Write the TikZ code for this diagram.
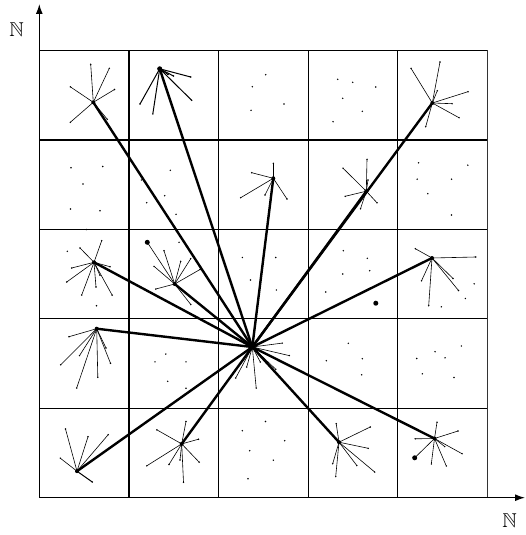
\documentclass[tikz,border=0pt]{standalone}
\usepackage{amssymb}
\usetikzlibrary{arrows.meta}
\tikzset{
  leaf/.style={line width=0.6pt},
  leafthick/.style={line width=1.0pt},
  link/.style={line width=2.4pt},
  smalldot/.style={circle,fill,inner sep=0pt,minimum size=1.6pt},
  hubdot/.style={circle,fill,inner sep=0pt,minimum size=4pt},
  bigdot/.style={circle,fill,inner sep=0pt,minimum size=5pt},
  gridthin/.style={line width=0.7pt},
  gridmid/.style={line width=1.0pt},
  gridthick/.style={line width=1.4pt},
  axis/.style={line width=1.3pt,-{Latex[length=10pt,width=7pt]}},
  lbl/.style={inner sep=0pt,font=\fontsize{20}{24}\selectfont}
}
\newcommand\drawstar[5][leaf]{%
  \coordinate (#2) at (#3,#4);
  \foreach \xx/\yy in {#5} {\draw[#1] (#2) -- (\xx,\yy) node[smalldot]{};}
  \node[hubdot] at (#2) {};
}
\newcommand\drawdots[1]{%
  \foreach \xx/\yy in {#1} {\node[smalldot] at (\xx,\yy) {};}
}
\begin{document}
\begin{tikzpicture}[x=1pt,y=-1pt]
\useasboundingbox (0,0) rectangle (525,535);
% grid
\draw[gridmid] (39.3,50.3) -- (487.3,50.3);
\draw[gridthick] (39.3,139.8) -- (487.3,139.8);
\draw[gridmid] (39.3,229.2) -- (487.3,229.2);
\draw[gridmid] (39.3,318.7) -- (487.3,318.7);
\draw[gridmid] (39.3,408.2) -- (487.3,408.2);
\draw[gridthick] (128.9,50.3) -- (128.9,497.7);
\draw[gridthin] (218.5,50.3) -- (218.5,497.7);
\draw[gridmid] (308.1,50.3) -- (308.1,497.7);
\draw[gridmid] (397.7,50.3) -- (397.7,497.7);
\draw[gridthin,black!80] (487.3,50.3) -- (487.3,497.7);
% axes
\coordinate (O) at (39.3,497.7);
\coordinate (Ytip) at (39.3,4);
\coordinate (Xtip) at (525,497.7);
\draw[axis] (O) -- (Ytip);
\draw[axis] (O) -- (Xtip);
\node[lbl] (ny) at (16.5,30) {$\mathbb{N}$};
\node[lbl] (nx) at (509.5,520.3) {$\mathbb{N}$};
% stars
\drawstar{A}{93.3}{102.3}{90.7/64.3, 109.3/68.3, 70.3/86.8, 114.5/89.5, 70.3/122.3, 107.3/119.3}
\drawstar[leafthick]{B}{159.7}{68.8}{190.7/77, 191.7/100.3, 140/104, 152.8/114, 173.5/76, 168/74.5}
\drawstar{C}{432.3}{103}{411/68.3, 440/62, 437.3/90.7, 468/91.7, 452/103.7, 459/117.7, 425.7/126.7}
\drawstar{D}{273.3}{178.3}{273.3/163.3, 251.7/172.7, 240.7/197.7, 265/195, 287/199}
\drawstar{E}{366.3}{191.2}{367/159.3, 343/168.2, 345.2/196.3, 377/202.8, 360.5/208.8, 368/180}
\drawstar{F}{94}{262.3}{101.7/240.7, 80/248, 71.7/268, 110/266.7, 66.7/282, 81.7/295, 96/287, 112.2/295.2, 100/275.3}
\drawstar{G}{174.7}{284}{147.3/242.3, 164/250.7, 180.7/261.3, 190.7/258.7, 154/266.3, 200/269.5, 155.8/289, 190.8/304.5}
\drawstar{H}{432}{258}{415.3/248.7, 475.7/257, 421.5/280.8, 428.7/305.7, 453/278.5, 458.5/290.5}
\drawstar{I}{96.7}{328.7}{69/336.7, 60.7/364.8, 79.5/355.6, 76.7/388, 97.8/377.3, 106/348, 110.5/363.2}
\drawstar{hub}{252.3}{347}{282.2/343.1, 289.3/355.6, 275.8/369.3, 260.3/362, 235.7/378, 246.7/367, 256.2/388}
\drawstar{J}{77}{471.2}{65.5/429, 88/436.7, 108.2/434.7, 60.3/458.2}
\draw[leafthick] (J) -- (92.3,482) node[smalldot]{};
\drawstar{K}{181.7}{443.9}{186/421.5, 156.8/429.8, 198.5/439.2, 146.8/465.8, 169/464.5, 180/460, 199.2/462.2, 183.5/482.3}
\drawstar{L}{339}{442.2}{336.2/423.7, 370.2/427, 368.2/448.3, 332.7/463.7, 335.7/476.6, 356.8/465.5, 374.7/472}
\drawstar{M}{434.5}{438.5}{437/422.2, 458/431, 415.2/438.8, 462/453.7, 446.3/466, 431.3/464, 444.7/446.6, 414.7/457.8}
% big dots
\node[bigdot] (g1) at (147.3,242.3) {};
\node[bigdot] (m1) at (414.7,457.8) {};
\node[bigdot] (q1) at (375.8,303.2) {};
\node[bigdot] (b1) at (159.7,68.8) {};
% loose dots
\drawdots{265.7/74.7, 252.3/86.7, 284/104, 251/110.3}
\drawdots{337.7/79.3, 352.7/82.3, 375.7/87, 342.7/98.3, 362.3/111.3, 333/121.7}
\drawdots{71/167.7, 102.7/166.5, 83/184, 70.5/209, 100/210.7, 86.3/229.5}
\drawdots{170.3/170.3, 164.7/195.7, 146.7/202.7, 176/214.3, 141.3/180}
\drawdots{418.5/162.8, 467.8/165.2, 417.2/179.2, 451.5/179.2, 427.8/193.7, 451.5/215}
\drawdots{67.3/251.3, 96.5/305.7}
\drawdots{179/242.3}
\drawdots{242.3/257.5, 275.7/257.5, 250.5/280, 276.3/290}
\drawdots{343.3/250.7, 367.3/258.3, 369.7/270.7, 342.7/274, 325.7/292}
\drawdots{474.2/283.8, 465.3/298.5, 441.3/306.8}
\drawdots{165.8/354, 155/361.8, 186/361.8, 167.7/381.3, 186/388.2}
\drawdots{348.3/343.3, 326.3/360.7, 362.3/358.7, 361.7/374.8}
\drawdots{461.3/346, 435/351.7, 445/357.8, 416.7/358.5, 422.3/373.8, 454/377.5}
\drawdots{242.3/430.7, 249.7/450.7, 248/478.7, 265.5/421.5, 284.7/440.7, 273.3/460.2}
% thick links from hub
\foreach \t in {A,B,C,D,E,F,G,H,I,J,K,L,M} {\draw[link] (hub) -- (\t);}
\end{tikzpicture}
\end{document}
